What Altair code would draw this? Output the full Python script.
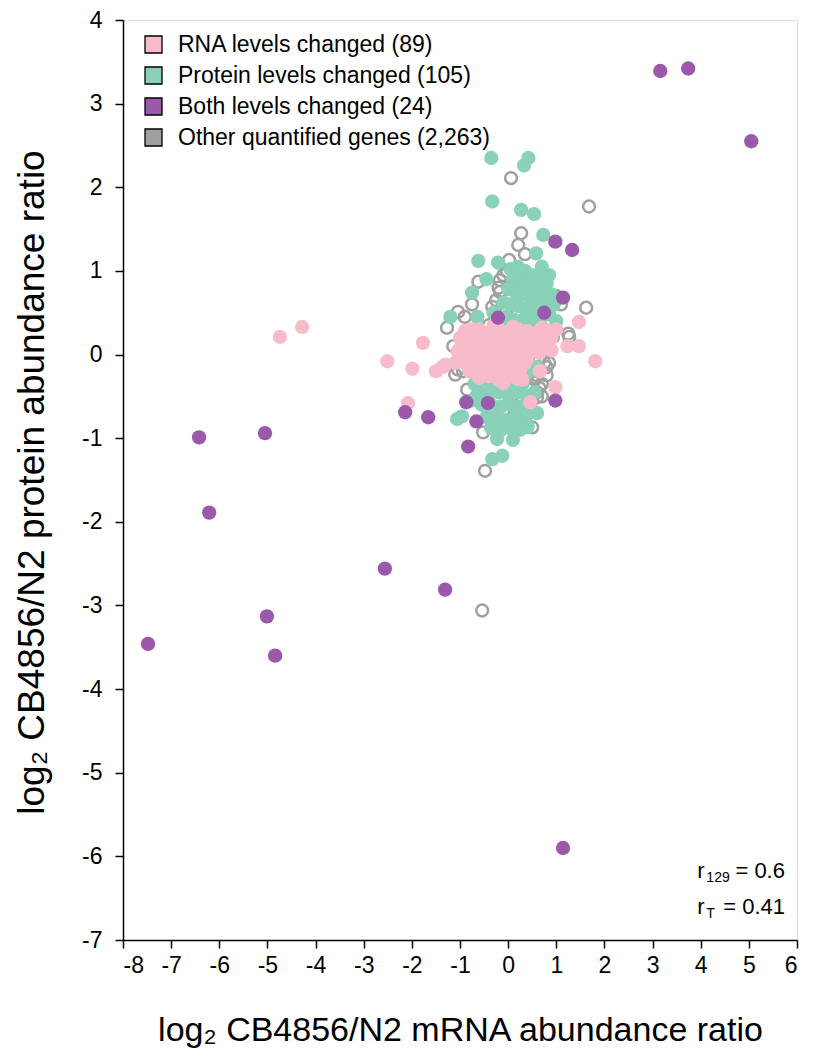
import altair as alt
import pandas as pd

# ---------------- data (log2 ratios) ----------------
groups = ["RNA levels changed (89)", "Protein levels changed (105)",
          "Both levels changed (24)", "Other quantified genes (2,263)"]
colors = ["#F8BBCA", "#89D1B8", "#9B59AB", "#A0A0A0"]

both_x = [3.74, 3.16, 5.05, -7.48, -6.42, -6.21, -5.05, -5.01, -4.84, -2.56, -1.31, 1.14,
          0.98, 1.33, 1.14, 0.75, -0.21, -0.87, -0.42, -2.14, -1.66, -0.66, 0.98, -0.83]
both_y = [3.42, 3.39, 2.55, -3.46, -0.99, -1.89, -0.94, -3.13, -3.60, -2.56, -2.81, -5.90,
          1.35, 1.25, 0.68, 0.50, 0.44, -0.57, -0.58, -0.69, -0.75, -0.80, -0.55, -1.10]

rna_x = [-4.74, -4.28, -2.51, -1.99, -1.77, -1.50, -1.37, -2.08, 1.47, 1.23, 1.47, 1.81,
         0.98, 0.46, -1.30, 1.00,
         -0.90, -0.60, -0.40, -0.20, 0.00, 0.20, 0.40, 0.60, 0.80,
         -1.00, -0.75, -0.50, -0.30, -0.10, 0.10, 0.30, 0.50, 0.70, 0.90,
         -0.95, -0.70, -0.45, -0.25, -0.05, 0.15, 0.35, 0.55, 0.80,
         -1.05, -0.80, -0.55, -0.35, -0.15, 0.05, 0.25, 0.45, 0.65,
         -0.90, -0.65, -0.40, -0.20, 0.00, 0.20, 0.40,
         -0.85, -0.60, -0.40, -0.20, 0.00, 0.20, 0.35,
         -0.80, -0.55, -0.35, -0.15, 0.05, 0.25, 0.66,
         -0.60, -0.40, -0.20, 0.00, 0.20,
         0.85, -0.30, 0.10, 0.90, -1.10, 0.70, -0.10, 0.30, -0.75, 0.35]
rna_y = [0.21, 0.33, -0.08, -0.17, 0.14, -0.20, -0.15, -0.58, 0.39, 0.10, 0.10, -0.08,
         -0.39, -0.57, -0.12, 0.30,
         0.28, 0.30, 0.26, 0.31, 0.27, 0.30, 0.28, 0.26, 0.29,
         0.20, 0.18, 0.21, 0.19, 0.22, 0.18, 0.20, 0.21, 0.19, 0.20,
         0.12, 0.10, 0.13, 0.11, 0.12, 0.14, 0.10, 0.12, 0.11,
         0.04, 0.05, 0.02, 0.04, 0.06, 0.03, 0.04, 0.05, 0.02,
         -0.04, -0.06, -0.03, -0.05, -0.04, -0.02, -0.05,
         -0.12, -0.10, -0.13, -0.11, -0.12, -0.14, -0.10,
         -0.20, -0.22, -0.19, -0.21, -0.20, -0.18, -0.20,
         -0.28, -0.26, -0.30, -0.27, -0.29,
         0.27, 0.35, 0.33, 0.05, -0.10, 0.32, -0.34, -0.30, 0.30, 0.22]

prot_x = [-0.35, 0.33, 0.42, -0.33, 0.27, 0.54, 0.73, 0.58, -0.62, -0.21, 0.70, -0.75,
          -1.20, -0.64, 0.85, -0.45,
          0.05, 0.20, 0.35, 0.50, 0.65, 0.80, 0.10, 0.25, 0.40, 0.55, 0.70, 0.90,
          0.00, 0.15, 0.30, 0.45, 0.60, 0.75, -0.10, 0.05, 0.20, 0.35, 0.50, 0.65,
          0.85, -0.05, 0.10, 0.25, 0.40, 0.55, 0.70, 0.00, 0.15, 0.30, 0.45, 0.60,
          -0.20, -0.30, 0.95, 1.00,
          -0.70, -0.50, -0.30, -0.10, 0.10, 0.30, -0.60, -0.40, -0.20, 0.00, 0.20, 0.40,
          -0.55, -0.35, -0.15, 0.05, 0.25, 0.45, -0.45, -0.25, -0.05, 0.15, 0.35,
          -0.35, -0.15, 0.05, 0.25, 0.40, -1.06, -0.96, -0.23, 0.10, -0.33, -0.12,
          0.40, -0.75, 0.55, 0.60,
          0.30, -0.20, 0.10, 0.45, -0.45, 0.70, 0.00, 0.60, -0.60, 0.20, 0.50]
prot_y = [2.35, 2.26, 2.35, 1.83, 1.73, 1.68, 1.43, 1.21, 1.12, 1.10, 1.05, 0.74,
          0.45, 0.45, 0.95, 0.90,
          1.02, 1.05, 1.00, 0.95, 0.90, 0.85, 0.90, 0.88, 0.85, 0.80, 0.75, 0.72,
          0.78, 0.75, 0.72, 0.68, 0.65, 0.60, 0.62, 0.60, 0.58, 0.55, 0.52, 0.50,
          0.48, 0.45, 0.42, 0.40, 0.38, 0.35, 0.33, 0.30, 0.28, 0.30, 0.25, 0.22,
          0.35, 0.50, 0.60, 0.40,
          -0.35, -0.30, -0.32, -0.30, -0.33, -0.35, -0.45, -0.45, -0.45, -0.48, -0.45, -0.50,
          -0.60, -0.60, -0.62, -0.60, -0.62, -0.65, -0.75, -0.75, -0.78, -0.75, -0.78,
          -0.88, -0.90, -0.88, -0.90, -0.85, -0.77, -0.74, -1.01, -1.02, -1.25, -1.21,
          -0.87, -0.55, -0.45, -0.70,
          0.12, 0.10, -0.20, -0.20, -0.20, 0.10, 0.15, -0.15, 0.20, 0.95, 0.60]

other_x = [0.06, 1.68, 0.27, 0.21, 0.02, 1.62, 1.27, -0.54, -0.62, -0.17, -0.17, -0.02,
           -1.04, -1.27, -1.14, -0.33, 0.93, -1.04, -1.10, -0.85, 0.60, 0.50, -0.52,
           -0.48, -0.94, 1.25, -0.90, -0.75, 0.35, 1.10, 1.00,
           -0.10, 0.15, 0.40, -0.20, 0.05, 0.30, 0.55, -0.25, 0.00, 0.25, 0.50, 0.75,
           -0.30, -0.05, 0.20, 0.45, 0.70, -0.40, -0.15, 0.10, 0.35, 0.60, 0.85,
           -0.50, -0.25, 0.00, 0.25, 0.50, 0.75, -0.60, -0.30, -0.05, 0.20, 0.45, 0.70, 0.85,
           -0.50, -0.25, 0.00, 0.30, 0.55, 0.75, 0.85, -0.40, -0.15, 0.10, 0.40, 0.60, 0.80,
           -0.30, -0.05, 0.20, 0.45, 0.65, -0.20, 0.05, 0.30, 0.50, -0.10, 0.15, 0.40,
           0.00, 0.25, 0.60, 0.70, 0.65, 0.70, 0.55, 0.80, 0.75, 0.60]
other_y = [2.11, 1.77, 1.45, 1.31, 1.13, 0.56, 0.21, -3.06, 0.87, 0.75, 0.89, 0.99,
           0.51, 0.32, 0.10, 0.57, 0.21, -0.18, -0.24, -0.42, -0.51, -0.87, -0.93,
           -1.39, -0.20, 0.25, 0.45, 0.60, 1.20, 0.60, 0.70,
           0.95, 0.95, 0.95, 0.80, 0.80, 0.80, 0.80, 0.65, 0.65, 0.65, 0.65, 0.65,
           0.50, 0.50, 0.50, 0.50, 0.50, 0.35, 0.35, 0.35, 0.35, 0.35, 0.35,
           0.20, 0.20, 0.20, 0.20, 0.20, 0.20, 0.05, 0.05, 0.05, 0.05, 0.05, 0.05, 0.05,
           -0.10, -0.10, -0.10, -0.10, -0.10, -0.10, -0.10, -0.25, -0.25, -0.25, -0.25, -0.25, -0.25,
           -0.40, -0.40, -0.40, -0.40, -0.40, -0.55, -0.55, -0.55, -0.55, -0.70, -0.70, -0.70,
           -0.85, -0.85, -0.20, -0.35, -0.05, -0.50, -0.30, -0.15, 0.10, -0.45]

# ---------------- tables ----------------
filled_df = pd.concat([
    pd.DataFrame({"x": prot_x, "y": prot_y, "group": groups[1]}),
    pd.DataFrame({"x": rna_x, "y": rna_y, "group": groups[0]}),
    pd.DataFrame({"x": both_x, "y": both_y, "group": groups[2]}),
], ignore_index=True)
other_df = pd.DataFrame({"x": other_x, "y": other_y, "group": groups[3]})

FONT = "Liberation Sans"
x_ticks = list(range(-8, 7))
y_ticks = list(range(-7, 5))

xscale = alt.Scale(domain=[-8, 6], nice=False, zero=False)
yscale = alt.Scale(domain=[-7, 4], nice=False, zero=False)

x_enc = alt.X("x:Q", scale=xscale, axis=alt.Axis(
    values=x_ticks, labelExpr="'' + datum.value", grid=False,
    title="log\u2082 CB4856/N2 mRNA abundance ratio",
    titleFontSize=34, titleFontWeight="normal", titleFont=FONT,
    titleY=90, titleBaseline="middle",
    labelFontSize=23, labelFont=FONT, labelPadding=6,
    tickSize=8, tickColor="black", domainColor="black", domainWidth=1.5, tickWidth=1.5,
    labelColor="black", titleColor="black"))
y_enc = alt.Y("y:Q", scale=yscale, axis=alt.Axis(
    values=y_ticks, labelExpr="'' + datum.value", grid=False,
    title="log\u2082 CB4856/N2 protein abundance ratio",
    titleFontSize=37, titleFontWeight="normal", titleFont=FONT,
    titleX=-91, titleY=462, titleBaseline="middle", titleAlign="center", titleAngle=-90,
    labelFontSize=23, labelFont=FONT, labelPadding=13,
    tickSize=8, tickColor="black", domainColor="black", domainWidth=1.5, tickWidth=1.5,
    labelColor="black", titleColor="black"))

others = alt.Chart(other_df).mark_point(
    shape="circle", filled=False, size=140, strokeWidth=2.5, color=colors[3], opacity=1
).encode(x=x_enc, y=y_enc)

filled = alt.Chart(filled_df).mark_circle(size=205, opacity=1).encode(
    x=alt.X("x:Q", scale=xscale),
    y=alt.Y("y:Q", scale=yscale),
    fill=alt.Fill("group:N", scale=alt.Scale(domain=groups, range=colors),
                  legend=alt.Legend(
                      title=None, orient="none", legendX=19, legendY=13,
                      symbolType="square", symbolSize=289,
                      symbolStrokeColor="black", symbolStrokeWidth=1.3,
                      symbolOpacity=1, labelFontSize=23, labelFont=FONT,
                      labelColor="black", labelLimit=0, rowPadding=7,
                      labelOffset=13, padding=0)),
)

# correlation annotations
r_x = [3.93]
r_line1 = [-6.18]
r_line2 = [-6.61]
val_x = [5.75]

def txt(xv, yv, s, size, align="left", dx=0, dy=0):
    return alt.Chart(pd.DataFrame({"x": xv, "y": yv, "t": [s]})).mark_text(
        font=FONT, fontSize=size, align=align, baseline="middle", dx=dx, dy=dy, color="black"
    ).encode(x=alt.X("x:Q", scale=xscale), y=alt.Y("y:Q", scale=yscale), text="t:N")

ann = [
    txt(r_x, r_line1, "r", 22),
    txt(r_x, r_line1, "129", 14, dx=9, dy=7),
    txt(val_x, r_line1, "= 0.6", 22, align="right"),
    txt(r_x, r_line2, "r", 22),
    txt(r_x, r_line2, "T", 14, dx=9, dy=7),
    txt(val_x, r_line2, "= 0.41", 22, align="right"),
]

chart = alt.layer(others, filled, *ann).properties(
    width=674, height=920,
    autosize=alt.AutoSizeParams(type="none"),
    padding={"left": 115, "top": 12, "right": 8, "bottom": 116},
).configure_view(stroke="black", strokeWidth=1.5).configure(background="white")

chart.save("out.html", embed_options={"renderer": "svg", "actions": False})
